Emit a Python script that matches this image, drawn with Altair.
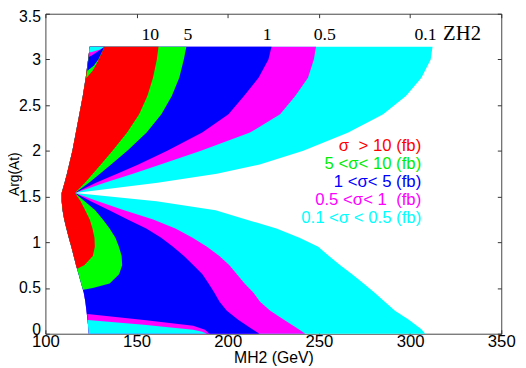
import altair as alt
import pandas as pd

# ---------------- data ----------------
# Arg(At) rows at which the band boundaries (MH2 in GeV) were read
ARG = [3.14, 3.0, 2.8, 2.6, 2.4, 2.2, 2.0, 1.85, 1.75, 1.65, 1.54, 1.45, 1.35,
       1.25, 1.15, 1.05, 0.95, 0.85, 0.75, 0.65, 0.55, 0.45, 0.35, 0.25, 0.15,
       0.05, 0.0]
LEFT = [124.3, 123.4, 122.1, 120.5, 118.6, 116.7, 114.8, 113.0, 111.8, 110.5,
        108.9, 108.9, 109.4, 110.3, 111.5, 112.8, 114.2, 115.5, 116.8, 118.2,
        119.6, 121.0, 121.9, 122.5, 123.1, 123.6, 123.8]
CYAN_R = [312.3, 311.3, 306.2, 297.7, 285.2, 266.1, 241.4, 217.5, 194.0, 161.5,
          116.2, 160.9, 193.3, 210.0, 226.7, 239.3, 249.6, 255.5, 261.7, 268.2,
          274.5, 280.4, 286.1, 291.7, 299.5, 306.2, 308.3]
MAGENTA_R = [248.4, 247.2, 244.0, 237.0, 228.7, 212.2, 185.3, 163.1, 148.0,
             132.5, 116.2, 128.8, 143.2, 159.1, 171.3, 180.7, 188.6, 195.4,
             200.9, 205.0, 209.2, 214.0, 217.7, 223.3, 231.0, 238.9, 242.5]
BLUE_R = [224.0, 222.3, 216.9, 208.9, 200.4, 186.0, 166.8, 151.0, 139.3, 127.7,
          116.2, 124.8, 135.0, 145.1, 155.3, 163.5, 170.0, 176.0, 181.2, 186.1,
          189.5, 192.6, 195.5, 199.5, 205.9, 213.5, 217.3]

GREEN_ARG = [3.14, 3.0, 2.8, 2.6, 2.4, 2.2, 2.0, 1.85, 1.75, 1.65, 1.54, 1.45,
             1.35, 1.25, 1.15, 1.05, 0.95, 0.85, 0.75, 0.65, 0.55, 0.50, 0.48]
GREEN_L = [124.3, 123.4, 122.1, 120.5, 118.6, 116.7, 114.8, 113.0, 111.8, 110.5,
           108.9, 108.9, 109.4, 110.3, 111.5, 112.8, 114.2, 115.5, 116.8, 118.2,
           119.6, 120.3, 120.7]
GREEN_R = [177.3, 175.9, 173.4, 169.3, 163.6, 155.5, 144.9, 136.0, 129.9, 123.9,
           116.2, 121.5, 127.3, 131.5, 135.2, 138.4, 140.3, 141.8, 142.1, 140.4,
           135.2, 126.0, 120.8]

RED_ARG = [3.14, 3.0, 2.8, 2.6, 2.4, 2.2, 2.0, 1.85, 1.75, 1.65, 1.54, 1.45,
           1.35, 1.25, 1.15, 1.05, 0.95, 0.85, 0.75, 0.71]
RED_L = [124.3, 123.4, 122.1, 120.5, 118.6, 116.7, 114.8, 113.0, 111.8, 110.5,
         108.9, 108.9, 109.4, 110.3, 111.5, 112.8, 114.2, 115.5, 116.8, 117.3]
RED_R = [162.0, 161.1, 159.0, 155.9, 151.4, 144.8, 136.8, 130.4, 126.0, 121.7,
         116.2, 119.3, 121.8, 124.3, 125.8, 126.9, 127.1, 126.0, 121.3, 117.5]

# small pockets in the top-left corner
CG_ARG, CG_L, CG_R = [3.14, 2.97, 2.88, 2.80], [124.3, 123.4, 123.0, 122.4], [132.4, 128.5, 126.0, 122.6]
CB_ARG, CB_L, CB_R = [3.14, 3.0, 2.93, 2.88], [124.3, 123.6, 123.2, 123.0], [132.4, 129.0, 126.5, 123.2]
CM_ARG, CM_L, CM_R = [3.14, 3.07, 3.03], [124.3, 123.9, 123.8], [132.4, 127.5, 124.2]
CC_ARG, CC_L, CC_R = [3.14, 3.11, 3.08], [124.3, 124.1, 124.0], [132.4, 130.0, 125.0]

# thin strips along the bottom
SM_ARG, SM_L, SM_R = [0.215, 0.151, 0.086, 0.043, 0.0], [122.9, 123.1, 123.4, 123.6, 123.8], [123.0, 154.0, 181.0, 187.5, 190.0]
SC_ARG, SC_L, SC_R = [0.151, 0.097, 0.043, 0.022, 0.0], [123.1, 123.3, 123.6, 123.7, 123.8], [123.3, 154.0, 181.0, 186.0, 188.6]

# contour labels along the top
LAB_TEXT = ["10", "5", "1", "0.5", "0.1"]
LAB_X = [157.5, 178.2, 221.6, 253.2, 308.5]
LAB_Y = [3.21, 3.21, 3.21, 3.21, 3.21]
TAG_TEXT = ["ZH2"]
TAG_X = [328.5]
TAG_Y = [3.21]

# legend lines
NB = "\u00a0"
LEG_TEXT = ["σ" + NB + " > 10 (fb)", "5 <σ< 10 (fb)", "1 <σ< 5 (fb)",
            "0.5 <σ< 1" + NB + " (fb)", "0.1 <σ < 0.5 (fb)"]
LEG_Y = [2.057, 1.852, 1.658, 1.464, 1.270]
LEG_X = [306.1, 306.1, 306.1, 306.1, 306.1]
LEG_COLOR = ["#ff0000", "#00ee00", "#0000ff", "#ff00ff", "#00ffff"]

X_TICKS = [100, 150, 200, 250, 300, 350]
Y_TICKS = [0, 0.5, 1, 1.5, 2, 2.5, 3, 3.5]

# ---------------- chart ----------------
W, H = 463, 325
XSC = alt.Scale(domain=[100, 350], nice=False, zero=False)
YSC = alt.Scale(domain=[0, 3.5], nice=False, zero=False)
TICKC = "#333333"

main_x = alt.Axis(values=X_TICKS, title="MH2 (GeV)", ticks=False, domain=False,
                  grid=False, labelFontSize=17, titleFontSize=16,
                  labelPadding=0, titlePadding=0, labelFlush=False,
                  labelOverlap=False, labelColor="black", titleColor="black",
                  titleFontWeight="normal", zindex=0)
main_y = alt.Axis(values=Y_TICKS, format="~g", title="Arg(At)", ticks=False,
                  domain=False, grid=False, labelFontSize=16, titleFontSize=14,
                  labelPadding=5, labelFlush=False, labelOverlap=False,
                  labelOffset={"condition": [
                      {"test": "datum.value >= 3.5", "value": 3},
                      {"test": "datum.value <= 0", "value": -4}],
                      "value": 0},
                  labelColor="black", titleColor="black",
                  titleFontWeight="normal", titleX=-31, titleY=H / 2,
                  titleAngle=270, titleBaseline="middle", titleAlign="center",
                  zindex=0)


def tick_axis(orient, offset, values):
    return alt.Axis(orient=orient, offset=offset, values=values, labels=False,
                    domain=False, grid=False, ticks=True, tickSize=4,
                    tickColor=TICKC, tickWidth=1, title=None, zindex=0)


def band(arg, xl, xr, color, main=False):
    df = pd.DataFrame({"arg": arg, "xl": xl, "xr": xr})
    return alt.Chart(df).mark_area(orient="horizontal", color=color,
                                   opacity=1).encode(
        y=alt.Y("arg:Q", scale=YSC, axis=main_y if main else None),
        x=alt.X("xl:Q", scale=XSC, axis=main_x if main else None),
        x2=alt.X2("xr:Q"),
    )


layers = [
    band(ARG, LEFT, CYAN_R, "#00ffff", main=True),
    band(ARG, LEFT, MAGENTA_R, "#ff00ff"),
    band(ARG, LEFT, BLUE_R, "#0000ff"),
    band(GREEN_ARG, GREEN_L, GREEN_R, "#00ff00"),
    band(RED_ARG, RED_L, RED_R, "#ff0000"),
    band(CG_ARG, CG_L, CG_R, "#00ff00"),
    band(CB_ARG, CB_L, CB_R, "#0000ff"),
    band(CM_ARG, CM_L, CM_R, "#ff00ff"),
    band(CC_ARG, CC_L, CC_R, "#00ffff"),
    band(SM_ARG, SM_L, SM_R, "#ff00ff"),
    band(SC_ARG, SC_L, SC_R, "#00ffff"),
]

lab_df = pd.DataFrame({"x": LAB_X, "y": LAB_Y, "t": LAB_TEXT})
labels = alt.Chart(lab_df).mark_text(
    font="Liberation Serif", fontSize=18, color="black", align="center",
    baseline="alphabetic").encode(
    x=alt.X("x:Q", scale=XSC, axis=tick_axis("bottom", -H, X_TICKS)),
    y=alt.Y("y:Q", scale=YSC, axis=tick_axis("left", -W, Y_TICKS)),
    text="t:N")

tag_df = pd.DataFrame({"x": TAG_X, "y": TAG_Y, "t": TAG_TEXT})
tag = alt.Chart(tag_df).mark_text(
    font="Liberation Serif", fontSize=21, color="black", align="center",
    baseline="alphabetic").encode(
    x=alt.X("x:Q", scale=XSC, axis=None),
    y=alt.Y("y:Q", scale=YSC, axis=None),
    text="t:N")

leg_df = pd.DataFrame({"x": LEG_X, "y": LEG_Y, "t": LEG_TEXT, "c": LEG_COLOR})
legend = alt.Chart(leg_df).mark_text(
    font="Liberation Sans", fontSize=17, align="right",
    baseline="middle").encode(
    x=alt.X("x:Q", scale=XSC, axis=tick_axis("top", -H, X_TICKS)),
    y=alt.Y("y:Q", scale=YSC, axis=tick_axis("right", -W, Y_TICKS)),
    color=alt.Color("c:N", scale=None),
    text="t:N")

chart = alt.layer(*layers, labels, tag, legend).resolve_axis(
    x="independent", y="independent"
).properties(
    width=W, height=H,
    autosize=alt.AutoSizeParams(type="none"),
    padding={"left": 38, "top": 3, "right": 17, "bottom": 32},
).configure(font="Liberation Sans").configure_view(
    stroke="#444444", strokeWidth=1
)

chart.save("out.html", embed_options={"renderer": "svg", "actions": False})
